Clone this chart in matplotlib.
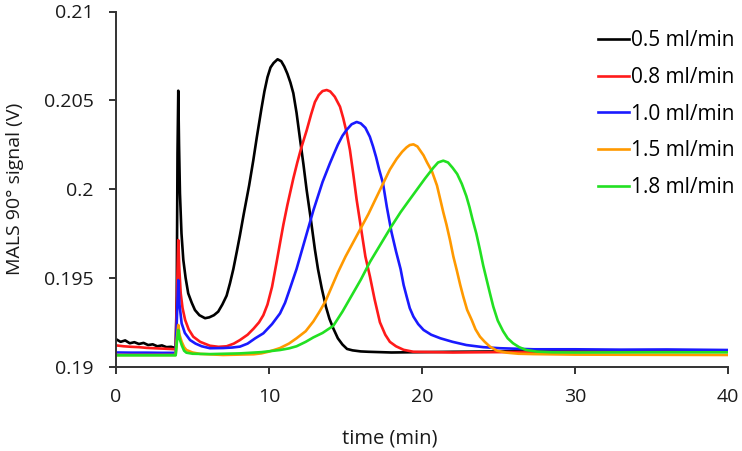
import matplotlib
matplotlib.use("Agg")
import matplotlib.pyplot as plt

plt.rcParams['font.family'] = ['Open Sans', 'DejaVu Sans']

labels = ["0.5 ml/min", "0.8 ml/min", "1.0 ml/min", "1.5 ml/min", "1.8 ml/min"]
colors = ["#000000", "#ff1a1a", "#1a1aff", "#ff9900", "#22e022"]

t_05 = [0, 0.3, 0.6, 0.9, 1.2, 1.5, 1.8, 2.1, 2.4, 2.7, 3.0, 3.3, 3.6, 3.9,
        3.97, 4.02, 4.07, 4.12, 4.18, 4.28, 4.4, 4.55, 4.72, 4.95, 5.16, 5.45, 5.82,
        6.1, 6.4, 6.68, 6.95, 7.23, 7.45, 7.67, 7.9, 8.1, 8.35, 8.7, 8.97, 9.2, 9.5,
        9.7, 9.9, 10.1, 10.3, 10.56, 10.8, 11.0, 11.2, 11.4, 11.59, 11.8, 12.03, 12.25,
        12.46, 12.74, 13.0, 13.2, 13.45, 13.72, 13.95, 14.2, 14.5, 14.8, 15.1, 15.46,
        16.0, 16.5, 18, 20, 22, 25, 28, 31, 34, 37, 40]
v_05 = [0.19155, 0.19140, 0.19148, 0.19132, 0.19138, 0.19128, 0.19134, 0.19122, 0.19126,
        0.19115, 0.19120, 0.19110, 0.19112, 0.19105,
        0.1940, 0.2020, 0.20554, 0.2025, 0.19976, 0.1975, 0.19601, 0.1950, 0.19413,
        0.1936, 0.19319, 0.1929, 0.19273,
        0.19278, 0.1929, 0.1931, 0.1935, 0.1940, 0.1947, 0.1955, 0.1965, 0.1974, 0.1986,
        0.2002, 0.2016, 0.2029, 0.2045,
        0.2055, 0.2063, 0.20685, 0.2071, 0.20731, 0.2072, 0.2069, 0.2065, 0.2060, 0.2054,
        0.2043, 0.2028, 0.2014,
        0.19995, 0.19826, 0.1966, 0.1955, 0.1944, 0.19338, 0.1927, 0.19216, 0.1916,
        0.19125, 0.1910, 0.19092,
        0.19086, 0.19084, 0.19080, 0.19082, 0.19084, 0.19086, 0.19087, 0.19088, 0.19088,
        0.19089, 0.19088]

t_08 = [0, 0.5, 1.0, 1.5, 2.0, 2.5, 3.0, 3.5, 3.9, 3.97, 4.07, 4.14, 4.23, 4.35, 4.52,
        4.75, 5.05, 5.5, 6.14, 6.7, 7.23, 7.7, 8.1, 8.6, 9.0, 9.35, 9.63, 9.9, 10.2, 10.5,
        10.75, 10.94, 11.2, 11.59, 11.85, 12.1, 12.46, 12.75, 13.0, 13.25, 13.5, 13.77,
        14.0, 14.3, 14.64, 14.85, 15.07, 15.29, 15.5, 15.73, 16.05, 16.3, 16.6, 16.9,
        17.25, 17.6, 17.9, 18.3, 18.8, 19.44, 22, 25, 30, 35, 40]
v_08 = [0.19120, 0.19115, 0.19112, 0.19110, 0.19106, 0.19104, 0.19102, 0.19100, 0.19098,
        0.1935, 0.19713, 0.1955, 0.19413, 0.1933, 0.19263,
        0.1921, 0.19169, 0.1914, 0.19118, 0.19112, 0.19115, 0.1913, 0.1915, 0.1918,
        0.19215, 0.1925, 0.1929, 0.1935, 0.1945, 0.1959,
        0.1971, 0.1980, 0.1991, 0.2006, 0.2015, 0.2023, 0.2033, 0.2042, 0.2049,
        0.2053, 0.20552, 0.20558,
        0.2055, 0.2052, 0.20464, 0.2040, 0.2032, 0.2022, 0.2009, 0.19939, 0.19760,
        0.1962, 0.19507, 0.1938,
        0.1925, 0.1918, 0.1914, 0.19115, 0.19095, 0.19084, 0.19080, 0.19082, 0.19084,
        0.19085, 0.19085]

t_10 = [0, 1, 2, 3, 3.9, 3.97, 4.07, 4.15, 4.29, 4.5, 4.84, 5.2, 5.6, 6.14, 7.0, 7.6,
        8.1, 8.6, 9.1, 9.63, 10.2, 10.72, 11.05, 11.37, 11.8, 12.2, 12.6, 12.9, 13.2,
        13.5, 13.98, 14.25, 14.5, 14.8, 15.07, 15.4, 15.73, 16.0, 16.3, 16.59, 16.8, 17.0,
        17.2, 17.45, 17.7, 18.0, 18.3, 18.6, 18.8, 19.0, 19.2, 19.44, 19.75, 20.1, 20.6,
        21.2, 22.0, 22.9, 24.0, 25.1, 27.3, 30, 33, 36, 40]
v_10 = [0.19080, 0.19079, 0.19079, 0.19078, 0.19078, 0.1925, 0.19488, 0.1935, 0.19244,
        0.1919, 0.19150, 0.1913, 0.19115, 0.19104, 0.19105, 0.19108,
        0.19113, 0.1913, 0.1916, 0.19188, 0.1924, 0.1930, 0.1936, 0.1944, 0.1955,
        0.1967, 0.1979, 0.1988, 0.1996,
        0.2004, 0.20145, 0.2020, 0.2025, 0.2030, 0.20333, 0.20365, 0.20378, 0.2037,
        0.20345, 0.20295, 0.2024, 0.2018,
        0.2011, 0.20033, 0.1990, 0.1976, 0.1965, 0.19550, 0.1946, 0.19394, 0.1933,
        0.19282, 0.1924, 0.19207, 0.1918,
        0.19160, 0.1914, 0.19122, 0.1911, 0.19104, 0.19098, 0.19098, 0.19096, 0.19097,
        0.19094]

t_15 = [0, 2, 3.9, 3.97, 4.07, 4.15, 4.29, 4.45, 4.6, 5.0, 5.5, 7.0, 9.0, 9.5, 10.0,
        10.72, 11.3, 11.8, 12.4, 12.9, 13.3, 13.7, 14.0, 14.5, 15.0, 15.5, 16.0, 16.5,
        17.0, 17.45, 17.9, 18.34, 18.7, 18.99, 19.2, 19.44, 19.7, 19.9, 20.1,
        20.33, 20.65, 20.98, 21.2, 21.39, 21.6, 21.83, 22.05, 22.27, 22.5, 22.7, 22.95,
        23.25, 23.5, 23.79, 24.1, 24.44, 24.9, 25.54, 26.3, 27.3, 30, 35, 40]
v_15 = [0.19066, 0.19066, 0.19066, 0.1915, 0.19235, 0.1918, 0.19141, 0.1911, 0.19094,
        0.1908, 0.19072, 0.19066, 0.19070, 0.19075, 0.19085,
        0.19105, 0.1913, 0.19160, 0.1920, 0.19255, 0.1931, 0.1937, 0.1943, 0.1953,
        0.1962, 0.1970, 0.1978, 0.1986,
        0.1995, 0.2003, 0.2011, 0.20170, 0.2021, 0.20235, 0.20248,
        0.20252, 0.2024, 0.20215, 0.2019,
        0.20150, 0.2010, 0.20020, 0.1994, 0.19870, 0.1980, 0.19713, 0.1962, 0.19544,
        0.1946, 0.19394, 0.1932,
        0.19263, 0.1921, 0.19169, 0.1914, 0.19113, 0.1909, 0.19079, 0.19073, 0.19071,
        0.19068, 0.19067, 0.19066]

t_18 = [0, 2, 3.9, 3.97, 4.07, 4.15, 4.3, 4.45, 4.6, 5.0, 6.14, 8.1, 9.5, 10.72, 11.3,
        11.8, 12.4, 12.9, 13.5, 14.2, 14.8, 15.4, 16.0, 16.6, 17.3, 18.0, 18.6, 19.1,
        19.65, 20.2, 20.74, 21.05, 21.39, 21.7, 22.0, 22.3, 22.6, 22.9, 23.1, 23.3, 23.55,
        23.79, 24.0, 24.23, 24.45, 24.66, 24.95, 25.3, 25.6, 25.95, 26.35, 26.8, 27.5,
        28.5, 30, 35, 40]
v_18 = [0.19064, 0.19064, 0.19064, 0.1913, 0.19207, 0.1916, 0.19120, 0.1909, 0.19079,
        0.19073, 0.19071, 0.19075, 0.19082, 0.19094, 0.19103,
        0.19115, 0.1914, 0.19165, 0.1919, 0.19230, 0.1931, 0.1940, 0.1949, 0.1959,
        0.1969, 0.1979, 0.1987, 0.1993,
        0.19995, 0.2006, 0.2012, 0.2015, 0.20160, 0.2015, 0.2012, 0.20085, 0.2003,
        0.1996, 0.1990, 0.1983, 0.1975,
        0.19657, 0.1957, 0.19488, 0.1941, 0.19338, 0.1926, 0.19200, 0.1916, 0.19132,
        0.1911, 0.19094, 0.19085,
        0.19081, 0.19080, 0.19081, 0.19081]

series = [(t_05, v_05), (t_08, v_08), (t_10, v_10), (t_15, v_15), (t_18, v_18)]

x_ticks = [0, 10, 20, 30, 40]
y_ticks = [0.19, 0.195, 0.2, 0.205, 0.21]
y_ticklabels = ["0.19", "0.195", "0.2", "0.205", "0.21"]

fig = plt.figure(figsize=(7.42, 4.51), dpi=100)
ax = fig.add_axes([116/742, 1-366.7/451, 612/742, 355.2/451])

for (t, v), c, lab in zip(series, colors, labels):
    ax.plot(t, v, color=c, lw=1.9, label=lab, solid_joinstyle='round')

ax.set_xlim(0, 40)
ax.set_ylim(0.19, 0.21)
ax.set_xticks(x_ticks)
ax.set_xticklabels([str(x) for x in x_ticks])
ax.set_yticks(y_ticks)
ax.set_yticklabels(y_ticklabels)

for s in ["top", "right"]:
    ax.spines[s].set_visible(False)
for s in ["left", "bottom"]:
    ax.spines[s].set_linewidth(1.4)
    ax.spines[s].set_color("#333333")

ax.tick_params(axis='both', direction='out', length=5, width=1.4, color="#333333",
               labelsize=14, labelcolor="#1a1a1a")
ax.tick_params(axis='x', pad=10)
ax.tick_params(axis='y', pad=11)

ax.set_xlabel("time (min)", fontsize=14.5, color="#1a1a1a")
ax.xaxis.set_label_coords((389.5-116)/612, -(428-366.7)/355.2)
ax.set_ylabel("MALS 90° signal (V)", fontsize=14, color="#1a1a1a")
ax.yaxis.set_label_coords((24-116)/612, 0.5)

leg = fig.legend(loc='upper left', bbox_to_anchor=(598/742, 1-30/451), frameon=False,
                 fontsize=15, handlelength=1.5, handletextpad=0.08, labelspacing=0.76,
                 borderpad=0, borderaxespad=0)
for line in leg.get_lines():
    line.set_linewidth(1.9)

fig.savefig("out.png", dpi=100)
